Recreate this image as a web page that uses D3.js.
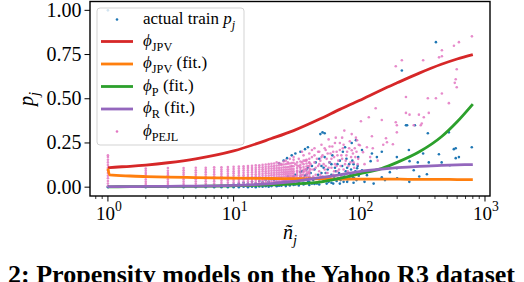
<!DOCTYPE html>
<html>
<head>
<meta charset="utf-8">
<script src="https://cdn.jsdelivr.net/npm/d3@7"></script>
<style>
body { margin: 0; background: #fff; }
svg { display: block; font-family: "Liberation Serif", "DejaVu Serif", serif; }
text { white-space: pre; }
</style>
</head>
<body>
<svg id="chart" width="524" height="282"></svg>
<script>
const chart = d3.select('#chart');

const lineN  = [1, 1.03, 1.5, 2, 3, 5, 10, 20, 30, 50, 70, 100, 150, 200, 300, 450, 600, 800];
const jpv    = [0.11, 0.111, 0.118, 0.125, 0.138, 0.16, 0.205, 0.275, 0.32, 0.39, 0.44, 0.49, 0.55, 0.59, 0.645, 0.695, 0.725, 0.75];
const jpvFit = [0.105, 0.07, 0.063, 0.06, 0.057, 0.054, 0.051, 0.049, 0.048, 0.047, 0.046, 0.046, 0.045, 0.045, 0.044, 0.044, 0.043, 0.043];
const pFit   = [0.002, 0.002, 0.003, 0.003, 0.004, 0.005, 0.008, 0.013, 0.018, 0.03, 0.05, 0.075, 0.105, 0.14, 0.2, 0.285, 0.37, 0.47];
const rFit   = [0.003, 0.003, 0.003, 0.004, 0.005, 0.006, 0.01, 0.02, 0.032, 0.055, 0.07, 0.088, 0.102, 0.11, 0.118, 0.123, 0.126, 0.128];

// actual train p_j
const trainCols = [
    [1, [0, 0.004, 1.0]], [2, [0, 0.005]], [3, [0, 0.004]], [4, [0, 0.006]], [5, [0, 0.005]],
    [6, [0, 0.007]], [7, [0, 0.006]], [8, [0, 0.008]], [9, [0, 0.007]], [10, [0, 0.01]],
    [11, [0, 0.008]], [12, [0.002, 0.012]], [13, [0, 0.01]], [14, [0.003, 0.014]], [15, [0, 0.012]],
    [16, [0.004, 0.016]], [17, [0.002, 0.02]], [18, [0.005, 0.015]], [19, [0.003, 0.022]], [20, [0.006, 0.018]]
];
const train = [
    [10, 0.015], [11, 0.02], [12, 0.025], [13, 0.02], [14, 0.03], [15, 0.022], [16, 0.035], [17, 0.028],
    [18, 0.04], [19, 0.032], [20, 0.045], [21, 0.04], [22, 0.012], [23, 0.028], [24, 0.05], [25, 0.02],
    [26, 0.035], [27, 0.06], [28, 0.015], [29, 0.045], [30, 0.03], [31, 0.07], [32, 0.02], [33, 0.05],
    [34, 0.085], [35, 0.04], [36, 0.025], [37, 0.065], [38, 0.1], [39, 0.035], [40, 0.055],
    [23, 0.135], [25, 0.15], [26.6, 0.164], [29, 0.18], [31, 0.19], [34, 0.2], [37, 0.215], [39, 0.226],
    [49, 0.3], [51, 0.31], [53, 0.305],
    [20, 0.01], [21, 0.025], [22, 0.03], [23, 0.008], [24, 0.02], [25, 0.04], [26, 0.015], [27, 0.03],
    [28, 0.05], [29, 0.02], [30, 0.06], [31, 0.015], [32, 0.045], [33, 0.03], [34, 0.06], [35, 0.09],
    [36, 0.05], [37, 0.02], [38, 0.07], [39, 0.11], [40, 0.03], [41, 0.08], [42, 0.12], [43, 0.04],
    [44, 0.1], [45, 0.14], [46, 0.02], [47, 0.07], [48, 0.16], [49, 0.05], [50, 0.12], [52, 0.04],
    [53, 0.17], [54, 0.08], [56, 0.1], [57, 0.03], [58, 0.14], [60, 0.07], [61, 0.18], [63, 0.05],
    [64, 0.11], [66, 0.035], [67, 0.13], [69, 0.08], [71, 0.04], [73, 0.12], [74, 0.2], [76, 0.06],
    [78, 0.09], [79, 0.16], [81, 0.045], [83, 0.13], [85, 0.07], [86, 0.1], [88, 0.15], [91, 0.05],
    [93, 0.09], [97, 0.12], [99, 0.065],
    [22, 0.005], [24, 0.008], [26, 0.006], [28, 0.01], [30, 0.012], [33, 0.01], [36, 0.015], [40, 0.012],
    [44, 0.018], [48, 0.015], [55, 0.02], [60, 0.025], [70, 0.02], [80, 0.03], [90, 0.025],
    [42, 0.02], [45, 0.05], [48, 0.03], [50, 0.08], [52, 0.11], [55, 0.04], [58, 0.06], [60, 0.13],
    [62, 0.02], [65, 0.09], [68, 0.05], [70, 0.15], [72, 0.07], [75, 0.03], [77, 0.226], [80, 0.11],
    [84, 0.06], [87, 0.25], [89, 0.056], [90, 0.13], [94, 0.265], [95, 0.04], [96, 0.107], [98, 0.17],
    [105, 0.21], [105, 0.096], [110, 0.03], [115, 0.068], [123, 0.147], [126, 0.19], [130, 0.02],
    [138, 0.17], [151, 0.2], [151, 0.056], [160, 0.04], [175, 0.085], [199, 0.17], [199, 0.107],
    [200, 0.05], [218, 0.66], [235, 0.35], [240, 0.35], [248, 0.21], [251, 0.147], [250, 0.03],
    [271, 0.096], [277, 0.35], [292, 0.14], [300, 0.06], [322, 0.19], [345, 0.073], [351, 0.305],
    [357, 0.14], [407, 0.82], [430, 0.186], [452, 0.14], [516, 0.31], [525, 0.124], [565, 0.215],
    [585, 0.22], [585, 0.164], [620, 0.17], [785, 0.226]
];

// phi_PEJL
const pejlCols = [
    [1, [0.005, 0.02, 0.035, 0.05, 0.065, 0.08, 0.095, 0.11, 0.125, 0.14, 0.155, 0.17, 0.18]],
    [2, [0.005, 0.018, 0.03, 0.043, 0.056, 0.068, 0.08, 0.093, 0.105]],
    [3, [0.005, 0.018, 0.03, 0.043, 0.056, 0.068, 0.08, 0.093, 0.108]],
    [4, [0.006, 0.018, 0.031, 0.044, 0.057, 0.07, 0.082, 0.095, 0.108]],
    [5, [0.006, 0.019, 0.032, 0.045, 0.058, 0.07, 0.083, 0.096, 0.11]],
    [6, [0.007, 0.02, 0.033, 0.046, 0.059, 0.072, 0.085, 0.098, 0.11]],
    [7, [0.008, 0.021, 0.034, 0.047, 0.06, 0.073, 0.086, 0.099, 0.112]],
    [8, [0.01, 0.023, 0.036, 0.049, 0.062, 0.075, 0.088, 0.1, 0.112]],
    [9, [0.012, 0.025, 0.038, 0.05, 0.063, 0.076, 0.089, 0.101, 0.114]],
    [10, [0.014, 0.027, 0.04, 0.052, 0.065, 0.078, 0.09, 0.103, 0.115]],
    [11, [0.016, 0.029, 0.042, 0.054, 0.067, 0.08, 0.092, 0.105, 0.117]],
    [12, [0.018, 0.031, 0.043, 0.056, 0.068, 0.081, 0.094, 0.106, 0.118]],
    [13, [0.02, 0.033, 0.045, 0.058, 0.07, 0.083, 0.095, 0.108, 0.12]],
    [14, [0.022, 0.034, 0.047, 0.059, 0.072, 0.084, 0.097, 0.109, 0.121]],
    [15, [0.023, 0.036, 0.048, 0.061, 0.073, 0.086, 0.098, 0.11, 0.123]],
    [16, [0.025, 0.037, 0.05, 0.062, 0.075, 0.087, 0.1, 0.112, 0.124]],
    [17, [0.026, 0.039, 0.051, 0.064, 0.076, 0.089, 0.101, 0.113, 0.126]],
    [18, [0.028, 0.04, 0.053, 0.065, 0.078, 0.09, 0.102, 0.115, 0.128]],
    [19, [0.029, 0.042, 0.054, 0.066, 0.079, 0.091, 0.104, 0.116, 0.13]],
    [20, [0.03, 0.043, 0.055, 0.068, 0.08, 0.093, 0.105, 0.118, 0.132]],
    [21, [0.031, 0.044, 0.056, 0.069, 0.081, 0.094, 0.106, 0.12, 0.134]],
    [22, [0.032, 0.045, 0.057, 0.07, 0.082, 0.095, 0.108, 0.122, 0.14]],
    [23, [0.033, 0.046, 0.058, 0.071, 0.083, 0.096, 0.109, 0.124, 0.136]],
    [24, [0.034, 0.047, 0.059, 0.072, 0.084, 0.097, 0.11, 0.126, 0.13]],
    [25, [0.035, 0.048, 0.06, 0.073, 0.085, 0.098, 0.112, 0.128, 0.145]],
    [26, [0.036, 0.049, 0.061, 0.074, 0.086, 0.099, 0.113, 0.13, 0.15]],
    [27, [0.037, 0.05, 0.062, 0.075, 0.087, 0.1, 0.114, 0.132, 0.14]],
    [28, [0.038, 0.051, 0.063, 0.076, 0.088, 0.101, 0.116, 0.134, 0.16]],
    [29, [0.039, 0.052, 0.064, 0.077, 0.089, 0.102, 0.117, 0.136, 0.12]],
    [30, [0.04, 0.053, 0.065, 0.078, 0.09, 0.103, 0.118, 0.138, 0.155]],
    [32, [0.041, 0.055, 0.068, 0.081, 0.094, 0.108, 0.122, 0.14]],
    [34, [0.043, 0.057, 0.07, 0.084, 0.097, 0.111, 0.126, 0.145]],
    [36, [0.044, 0.058, 0.072, 0.086, 0.1, 0.114, 0.13, 0.15]],
    [38, [0.046, 0.06, 0.074, 0.088, 0.102, 0.117, 0.134, 0.155]],
    [40, [0.048, 0.062, 0.076, 0.09, 0.105, 0.12, 0.138, 0.16]]
];
const pejl = [
    [31, 0.06], [31, 0.13], [32, 0.09], [33, 0.16], [33, 0.05], [34, 0.11], [35, 0.14], [35, 0.07],
    [36, 0.18], [37, 0.1], [38, 0.06], [38, 0.15], [39, 0.12], [40, 0.19], [40, 0.08], [41, 0.13],
    [42, 0.05], [42, 0.17], [43, 0.1], [44, 0.22], [44, 0.14], [45, 0.07], [46, 0.16], [47, 0.12],
    [48, 0.2], [48, 0.09], [49, 0.15], [50, 0.24], [51, 0.06], [51, 0.18], [52, 0.13], [53, 0.1],
    [54, 0.21], [55, 0.16], [56, 0.08], [57, 0.27], [58, 0.14], [59, 0.19], [60, 0.11], [61, 0.23],
    [62, 0.07], [63, 0.17], [64, 0.13], [65, 0.28], [66, 0.2], [67, 0.09], [68, 0.15], [70, 0.25],
    [71, 0.12], [72, 0.18], [73, 0.28], [74, 0.22], [75, 0.1], [76, 0.32], [78, 0.15], [80, 0.2],
    [82, 0.12], [84, 0.26], [86, 0.17], [87, 0.209], [88, 0.08], [90, 0.14], [92, 0.22], [94, 0.28],
    [96, 0.265], [98, 0.16],
    [30, 0.17], [32, 0.04], [33, 0.12], [34, 0.06], [35, 0.2], [36, 0.09], [37, 0.15], [38, 0.045],
    [39, 0.08], [40, 0.14], [41, 0.1], [42, 0.21], [43, 0.06], [44, 0.18], [45, 0.11], [46, 0.05],
    [47, 0.2], [48, 0.13], [49, 0.07], [50, 0.17], [52, 0.05], [53, 0.22], [54, 0.12], [55, 0.08],
    [56, 0.19], [57, 0.11], [58, 0.23], [59, 0.06], [60, 0.16], [62, 0.2], [63, 0.09], [64, 0.25],
    [66, 0.12], [67, 0.18], [69, 0.1], [70, 0.21], [72, 0.06], [73, 0.16], [75, 0.24], [77, 0.13],
    [79, 0.18], [81, 0.09], [83, 0.22], [85, 0.14], [87, 0.3], [89, 0.19], [91, 0.11], [93, 0.17],
    [95, 0.2], [97, 0.13], [99, 0.24],
    [101, 0.237], [103, 0.373], [107, 0.198], [110, 0.13], [115, 0.226], [119, 0.395], [122, 0.17],
    [126, 0.288], [128, 0.22], [135, 0.446], [140, 0.15], [151, 0.38], [155, 0.24], [163, 0.277],
    [166, 0.254], [185, 0.243], [195, 0.367], [195, 0.684], [199, 0.35], [199, 0.31], [218, 0.718],
    [235, 0.51], [235, 0.42], [251, 0.41], [271, 0.35], [298, 0.41], [308, 0.35], [314, 0.36],
    [322, 0.718], [326, 0.395], [351, 0.503], [357, 0.42], [407, 0.503], [431, 0.734], [454, 0.774],
    [454, 0.74], [454, 0.53], [516, 0.475], [566, 0.8], [575, 0.59], [585, 0.61], [596, 0.565],
    [596, 0.667], [620, 0.82], [787, 0.853]
];

const yTicks = [0, 0.25, 0.5, 0.75, 1];
const xTicks = [1, 10, 100, 1000];
const xTickExp = ['0', '1', '2', '3'];

const legendItems = [
    {kind: 'dot', color: '#1f77b4', parts: [{t: 'actual train '}, {t: 'p', it: true}, {t: 'j', it: true, sub: true}]},
    {kind: 'line', color: '#d62728', parts: [{t: 'ϕ', it: true}, {t: 'JPV', sub: true}]},
    {kind: 'line', color: '#ff7f0e', parts: [{t: 'ϕ', it: true}, {t: 'JPV', sub: true}, {t: ' (fit.)'}]},
    {kind: 'line', color: '#2ca02c', parts: [{t: 'ϕ', it: true}, {t: 'P', sub: true}, {t: ' (fit.)'}]},
    {kind: 'line', color: '#9467bd', parts: [{t: 'ϕ', it: true}, {t: 'R', sub: true}, {t: ' (fit.)'}]},
    {kind: 'dot', color: '#e377c2', parts: [{t: 'ϕ', it: true}, {t: 'PEJL', sub: true}]}
];

const plot = {left: 90, right: 490, top: 1.5, bottom: 196};

const x = d3.scaleLog().domain([0.72, 1096]).range([plot.left, plot.right]);
const y = d3.scaleLinear().domain([-0.05, 1.05]).range([plot.bottom, plot.top]);

function mathText(sel, parts, size) {
    let shift = 0;
    parts.forEach(function(p) {
        let target = p.sub ? size * 0.3 : (p.sup ? -size * 0.45 : 0);
        let t = sel.append('tspan').attr('dy', target - shift).text(p.t);
        shift = target;
        if (p.sub || p.sup) {
            t.attr('font-size', size * 0.72);
        }
        if (p.it) {
            t.attr('font-style', 'italic');
        }
    });
}

// flatten columns into points
const trainPts = train.slice();
trainCols.forEach(function(c) {
    c[1].forEach(function(v) { trainPts.push([c[0], v]); });
});
const pejlPts = [];
pejlCols.forEach(function(c) {
    c[1].forEach(function(v) { pejlPts.push([c[0], v]); });
});
pejl.forEach(function(d) { pejlPts.push(d); });

chart.append('clipPath').attr('id', 'plotClip')
    .append('rect')
    .attr('x', plot.left).attr('y', plot.top)
    .attr('width', plot.right - plot.left).attr('height', plot.bottom - plot.top);

const layer = chart.append('g').attr('clip-path', 'url(#plotClip)');

layer.append('g').selectAll('circle')
    .data(trainPts)
    .join('circle')
    .attr('cx', d => x(d[0]))
    .attr('cy', d => y(d[1]))
    .attr('r', 1.3)
    .attr('fill', '#1f77b4');

layer.append('g').selectAll('circle')
    .data(pejlPts)
    .join('circle')
    .attr('cx', d => x(d[0]))
    .attr('cy', d => y(d[1]))
    .attr('r', 1.3)
    .attr('fill', '#e377c2')
    .attr('fill-opacity', 0.85);

const lineGen = d3.line()
    .x(d => x(d[0]))
    .y(d => y(d[1]))
    .curve(d3.curveMonotoneX);

const series = [
    {vals: jpv, color: '#d62728'},
    {vals: jpvFit, color: '#ff7f0e'},
    {vals: pFit, color: '#2ca02c'},
    {vals: rFit, color: '#9467bd'}
];
series.forEach(function(s) {
    layer.append('path')
        .datum(lineN.map((n, i) => [n, s.vals[i]]))
        .attr('d', lineGen)
        .attr('fill', 'none')
        .attr('stroke', s.color)
        .attr('stroke-width', 2.8);
});

// axes
const xAxis = chart.append('g').attr('transform', `translate(0,${plot.bottom})`);
const minorTicks = x.ticks().filter(t => xTicks.indexOf(t) < 0);
xAxis.selectAll('.minor')
    .data(minorTicks)
    .join('line')
    .attr('x1', d => x(d)).attr('x2', d => x(d))
    .attr('y1', 0).attr('y2', 3)
    .attr('stroke', '#000').attr('stroke-width', 0.8);
xAxis.selectAll('.major')
    .data(xTicks)
    .join('line')
    .attr('x1', d => x(d)).attr('x2', d => x(d))
    .attr('y1', 0).attr('y2', 5.5)
    .attr('stroke', '#000').attr('stroke-width', 1);
xTicks.forEach(function(t, i) {
    let lbl = xAxis.append('text')
        .attr('x', x(t) + 1)
        .attr('y', 24)
        .attr('text-anchor', 'middle')
        .attr('font-size', 19);
    mathText(lbl, [{t: '10'}, {t: xTickExp[i], sup: true}], 19);
});

const yAxis = chart.append('g').attr('transform', `translate(${plot.left},0)`);
yAxis.selectAll('line')
    .data(yTicks)
    .join('line')
    .attr('x1', -5.5).attr('x2', 0)
    .attr('y1', d => y(d)).attr('y2', d => y(d))
    .attr('stroke', '#000').attr('stroke-width', 1);
yAxis.selectAll('text')
    .data(yTicks)
    .join('text')
    .attr('x', -8.5)
    .attr('y', d => y(d) + 6.5)
    .attr('text-anchor', 'end')
    .attr('font-size', 20)
    .text(d => d3.format('.2f')(d));

chart.append('rect')
    .attr('x', plot.left).attr('y', plot.top)
    .attr('width', plot.right - plot.left).attr('height', plot.bottom - plot.top)
    .attr('fill', 'none')
    .attr('stroke', '#000')
    .attr('stroke-width', 1.4);

// axis titles
const yTitle = chart.append('text')
    .attr('transform', 'translate(33,99) rotate(-90)')
    .attr('text-anchor', 'middle')
    .attr('font-size', 20);
mathText(yTitle, [{t: 'p', it: true}, {t: 'j', it: true, sub: true}], 20);

const xTitle = chart.append('text')
    .attr('x', 290)
    .attr('y', 239)
    .attr('text-anchor', 'middle')
    .attr('font-size', 20);
mathText(xTitle, [{t: 'ñ', it: true}, {t: 'j', it: true, sub: true}], 20);

// legend
const legend = chart.append('g');
legend.append('rect')
    .attr('x', 97).attr('y', 8)
    .attr('width', 147).attr('height', 137)
    .attr('rx', 3)
    .attr('fill', '#fff').attr('fill-opacity', 0.8)
    .attr('stroke', '#d3d3d3').attr('stroke-width', 1);
const rowY = [19.5, 41.5, 64, 86.5, 109, 131.5];
legendItems.forEach(function(item, i) {
    let ry = rowY[i];
    if (item.kind === 'dot') {
        legend.append('circle')
            .attr('cx', 117).attr('cy', ry)
            .attr('r', 1.3)
            .attr('fill', item.color);
    } else {
        legend.append('line')
            .attr('x1', 101).attr('x2', 133)
            .attr('y1', ry).attr('y2', ry)
            .attr('stroke', item.color)
            .attr('stroke-width', 2.8);
    }
    let lbl = legend.append('text')
        .attr('x', 143)
        .attr('y', ry + 4)
        .attr('font-size', 17);
    mathText(lbl, item.parts, 17);
});

// caption (cut off at the bottom, as in the source)
chart.append('text')
    .attr('x', 8)
    .attr('y', 283)
    .attr('font-size', 26)
    .attr('font-weight', 'bold')
    .attr('textLength', 507)
    .attr('lengthAdjust', 'spacingAndGlyphs')
    .text('2: Propensity models on the Yahoo R3 dataset');
</script>
</body>
</html>
